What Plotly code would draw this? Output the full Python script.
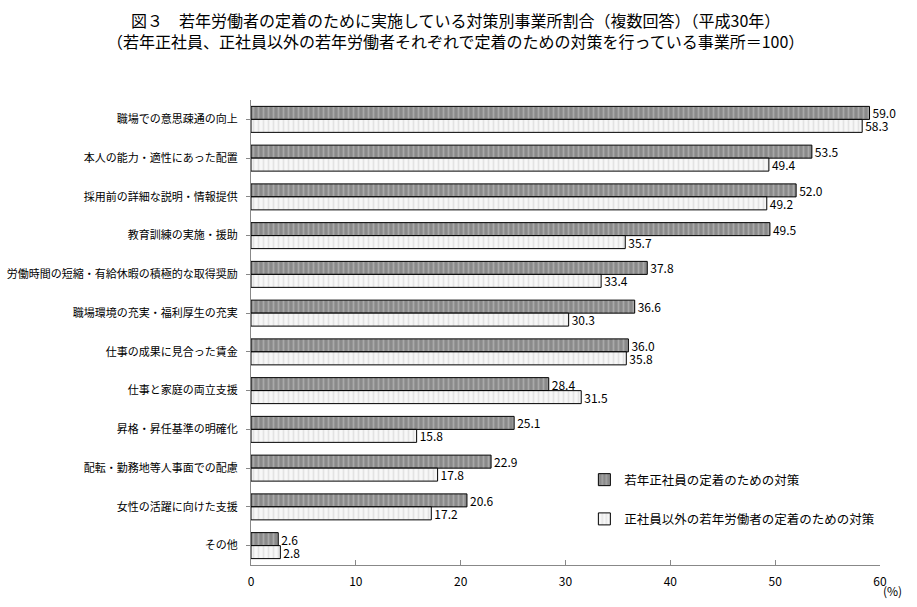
import plotly.graph_objects as go

categories = [
    "職場での意思疎通の向上",
    "本人の能力・適性にあった配置",
    "採用前の詳細な説明・情報提供",
    "教育訓練の実施・援助",
    "労働時間の短縮・有給休暇の積極的な取得奨励",
    "職場環境の充実・福利厚生の充実",
    "仕事の成果に見合った賃金",
    "仕事と家庭の両立支援",
    "昇格・昇任基準の明確化",
    "配転・勤務地等人事面での配慮",
    "女性の活躍に向けた支援",
    "その他",
]
regular_values = [59.0, 53.5, 52.0, 49.5, 37.8, 36.6, 36.0, 28.4, 25.1, 22.9, 20.6, 2.6]
nonregular_values = [58.3, 49.4, 49.2, 35.7, 33.4, 30.3, 35.8, 31.5, 15.8, 17.8, 17.2, 2.8]
series_names = ["若年正社員の定着のための対策", "正社員以外の若年労働者の定着のための対策"]
x_ticks = [0, 10, 20, 30, 40, 50, 60]
title_lines = [
    "図３　若年労働者の定着のために実施している対策別事業所割合（複数回答）（平成30年）",
    "（若年正社員、正社員以外の若年労働者それぞれで定着のための対策を行っている事業所＝100）",
]

FONT = "Noto Sans CJK JP"

fig = go.Figure()
fig.add_trace(go.Bar(
    y=categories, x=regular_values, orientation="h", name=series_names[0],
    legendgroup="a",
    marker=dict(color="#8a8a8a", line=dict(color="black", width=1),
                pattern=dict(shape="|", fgcolor="#c8c8c8", bgcolor="#8a8a8a", size=5, solidity=0.35)),
    text=[f"{v:.1f}" for v in regular_values], textposition="outside", constraintext="none",
    textfont=dict(family=FONT, size=12, color="black"), cliponaxis=False,
))
fig.add_trace(go.Bar(
    y=categories, x=nonregular_values, orientation="h", name=series_names[1],
    legendgroup="b",
    marker=dict(color="#f4f4f4", line=dict(color="black", width=1),
                pattern=dict(shape="|", fgcolor="#cfcfcf", bgcolor="#f7f7f7", size=5, solidity=0.35)),
    text=[f"{v:.1f}" for v in nonregular_values], textposition="outside", constraintext="none",
    textfont=dict(family=FONT, size=12, color="black"), cliponaxis=False,
))

fig.update_layout(
    width=917, height=607,
    margin=dict(l=251, r=37, t=100, b=42, autoexpand=False),
    plot_bgcolor="white", paper_bgcolor="white",
    barmode="group", bargap=0.33, bargroupgap=0.0,
    font=dict(family=FONT, color="black"),
    legend=dict(
        x=0.53, y=0.215, xanchor="left", yanchor="top",
        traceorder="grouped", tracegroupgap=20,
        font=dict(family=FONT, size=12.5, color="black"),
        bgcolor="rgba(0,0,0,0)", itemwidth=30,
    ),
    showlegend=True,
)
fig.update_xaxes(
    range=[0, 60], tickvals=x_ticks, showgrid=False, zeroline=False,
    showline=True, linecolor="#888888", linewidth=1,
    ticks="inside", ticklen=5, tickcolor="#888888",
    tickfont=dict(family=FONT, size=12), ticklabelstandoff=6, automargin=False,
)
fig.update_yaxes(
    autorange="reversed", showgrid=False, zeroline=False,
    showline=True, linecolor="#888888", linewidth=1,
    ticks="outside", ticklen=4, tickcolor="#888888",
    tickfont=dict(family=FONT, size=11), ticklabelstandoff=6, automargin=False,
)
fig.add_annotation(text="<br>".join(title_lines), xref="paper", yref="paper", x=0.325, y=1.0,
                   yshift=70, xanchor="center", yanchor="middle", showarrow=False, align="center",
                   font=dict(family=FONT, size=16, color="black"))
fig.add_annotation(text="(%)", xref="paper", yref="paper", x=1.0, y=0, xanchor="left", yanchor="middle",
                   yshift=-25, xshift=1, showarrow=False, font=dict(family=FONT, size=12))

fig.write_html("out.html", config={"displayModeBar": False},
               post_script="document.body.style.margin='0';")
